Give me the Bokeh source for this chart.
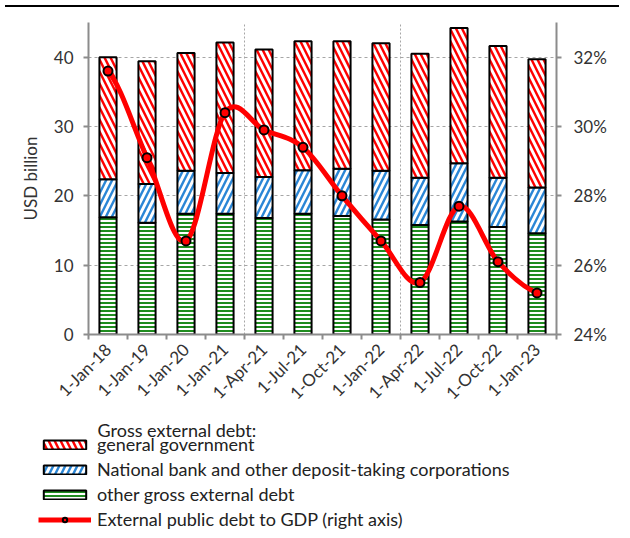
import math
import numpy as np
from bokeh.plotting import figure
from bokeh.models import (ColumnDataSource, Range1d, LinearAxis, FixedTicker, PrintfTickFormatter,
                          Legend, LegendItem, Label, Grid, Div)
from bokeh.layouts import column
from bokeh.embed import file_html
from bokeh.resources import INLINE

# ---------------- data ----------------
dates = ["1-Jan-18", "1-Jan-19", "1-Jan-20", "1-Jan-21", "1-Apr-21", "1-Jul-21",
         "1-Oct-21", "1-Jan-22", "1-Apr-22", "1-Jul-22", "1-Oct-22", "1-Jan-23"]
other_debt = [16.9, 16.1, 17.4, 17.4, 16.8, 17.4, 17.1, 16.6, 15.8, 16.3, 15.5, 14.6]
nbank_debt = [5.5, 5.6, 6.2, 5.9, 5.9, 6.3, 6.8, 7.0, 6.8, 8.4, 7.1, 6.6]
govt_debt = [17.6, 17.7, 17.0, 18.8, 18.4, 18.6, 18.4, 18.4, 17.9, 19.5, 19.0, 18.5]
debt_to_gdp = [31.6, 29.1, 26.7, 30.4, 29.9, 29.4, 28.0, 26.7, 25.5, 27.7, 26.1, 25.2]
left_ticks = [0, 10, 20, 30, 40]
right_ticks = [24, 26, 28, 30, 32]
year_break_after = ["1-Jan-21", "1-Jan-22"]
legend_title = "Gross external debt:"
series_names = ["general government", "National bank and other deposit-taking corporations",
                "other gross external debt", "External public debt to GDP (right axis)"]

FONT = "Lato"
TXT = "#333333"
AX = "#8c8c8c"
RED, BLUE, GREEN = "#ff0000", "#2a86d6", "#1f8c1f"
bar_style = dict(
    govt=dict(fill_color="white", hatch_color=RED, hatch_pattern="left_diagonal_line",
              hatch_scale=12, hatch_weight=2.4, line_color="black", line_width=2),
    nbank=dict(fill_color="white", hatch_color=BLUE, hatch_pattern="right_diagonal_line",
               hatch_scale=12, hatch_weight=2.4, line_color="black", line_width=2),
    other=dict(fill_color="white", hatch_color=GREEN, hatch_pattern="horizontal_line",
               hatch_scale=4, hatch_weight=2, line_color="black", line_width=2),
)
line_style = dict(line_color=RED, line_width=5)
pt_style = dict(size=9, marker="circle", fill_color=RED, line_color="black", line_width=2)

n = len(dates)
xs = list(range(n))
src = ColumnDataSource(dict(x=xs, other=other_debt, nbank=nbank_debt, govt=govt_debt))

PH = 406
p = figure(width=614, height=PH, frame_width=468, frame_height=312,
           min_border_left=88, min_border_right=58, min_border_top=10, min_border_bottom=84,
           x_range=Range1d(-0.5, n - 0.5), y_range=Range1d(0, 45),
           output_backend="svg", toolbar_location=None, outline_line_color=None,
           background_fill_color="white", border_fill_color="white")
p.frame_align = False
p.extra_y_ranges = {"pct": Range1d(24, 33)}

# grids
p.xgrid.visible = False
p.ygrid.ticker = FixedTicker(ticks=left_ticks[1:])
p.ygrid.grid_line_color = "#a6a6a6"
p.ygrid.grid_line_dash = "3 3"
p.ygrid.grid_line_width = 1
vb = [dates.index(d) + 0.5 for d in year_break_after]
p.add_layout(Grid(dimension=0, ticker=FixedTicker(ticks=vb), grid_line_color="#a6a6a6",
                  grid_line_dash="2 2", grid_line_width=1))

# stacked bars (stacking done by bokeh's stack transform)
keys = ["other", "nbank", "govt"]
stack = p.vbar_stack(keys, x="x", width=0.44, source=src,
                     fill_color=[bar_style[k]["fill_color"] for k in keys],
                     hatch_color=[bar_style[k]["hatch_color"] for k in keys],
                     hatch_pattern=[bar_style[k]["hatch_pattern"] for k in keys],
                     hatch_scale=[bar_style[k]["hatch_scale"] for k in keys],
                     hatch_weight=[bar_style[k]["hatch_weight"] for k in keys],
                     line_color="black", line_width=2)

# smoothed ratio line (Catmull-Rom -> Bezier control points from the data)
y = np.array(debt_to_gdp, dtype=float)
xa = np.arange(n, dtype=float)
m = np.zeros(n)
m[1:-1] = (y[2:] - y[:-2]) / 2.0
m[0] = (y[1] - y[0]) / 2.0
m[-1] = (y[-1] - y[-2]) / 2.0
bz = ColumnDataSource(dict(x0=xa[:-1], y0=y[:-1], x1=xa[1:], y1=y[1:],
                           cx0=xa[:-1] + 1 / 3, cy0=y[:-1] + m[:-1] / 3,
                           cx1=xa[1:] - 1 / 3, cy1=y[1:] - m[1:] / 3))
p.bezier(x0="x0", y0="y0", x1="x1", y1="y1", cx0="cx0", cy0="cy0", cx1="cx1", cy1="cy1",
         source=bz, y_range_name="pct", **line_style)
p.scatter(x=xs, y=debt_to_gdp, y_range_name="pct", **pt_style)

# axes
xa_ = p.xaxis[0]
xa_.ticker = FixedTicker(ticks=xs, minor_ticks=[i - 0.5 for i in range(n + 1)])
xa_.major_label_overrides = {i: d for i, d in enumerate(dates)}
xa_.major_label_orientation = math.pi / 4
xa_.major_tick_line_color = None
xa_.minor_tick_in = 0
xa_.minor_tick_out = 5
xa_.minor_tick_line_color = AX
xa_.minor_tick_line_width = 2
xa_.axis_line_color = AX
xa_.axis_line_width = 2
xa_.major_label_text_font = FONT
xa_.major_label_text_font_size = "17px"
xa_.major_label_text_color = TXT
xa_.major_label_standoff = 6

ya = p.yaxis[0]
ya.ticker = FixedTicker(ticks=left_ticks)
ya.minor_tick_line_color = None
ya.major_tick_in = 0
ya.major_tick_out = 5
ya.major_tick_line_color = AX
ya.major_tick_line_width = 2
ya.axis_line_color = AX
ya.axis_line_width = 2
ya.major_label_text_font = FONT
ya.major_label_text_font_size = "17px"
ya.major_label_text_color = TXT
ya.major_label_standoff = 10
ya.axis_label = "USD billion"
ya.axis_label_text_font = FONT
ya.axis_label_text_font_size = "17px"
ya.axis_label_text_font_style = "normal"
ya.axis_label_text_color = TXT
ya.axis_label_standoff = 10

ra = LinearAxis(y_range_name="pct", ticker=FixedTicker(ticks=right_ticks),
                formatter=PrintfTickFormatter(format="%d%%"))
ra.minor_tick_line_color = None
ra.major_tick_in = 0
ra.major_tick_out = 5
ra.major_tick_line_color = AX
ra.major_tick_line_width = 2
ra.axis_line_color = AX
ra.axis_line_width = 2
ra.major_label_text_font = FONT
ra.major_label_text_font_size = "17px"
ra.major_label_text_color = TXT
ra.major_label_standoff = 12
p.add_layout(ra, "right")

# ---------------- legend panel (own figure, frame = whole canvas) ----------------
LH = 522 - 2 - PH
q = figure(width=614, height=LH, min_border=0, x_range=Range1d(0, 614), y_range=Range1d(0, LH),
           x_axis_location=None, y_axis_location=None,
           output_backend="svg", toolbar_location=None, outline_line_color=None)
q.frame_align = False
q.grid.visible = False
# legend-only renderers (same data, hidden in this panel)
r_govt = q.vbar(x=xs, top=govt_debt, width=0.44, visible=False, **bar_style["govt"])
r_nbank = q.vbar(x=xs, top=nbank_debt, width=0.44, visible=False, **bar_style["nbank"])
r_other = q.vbar(x=xs, top=other_debt, width=0.44, visible=False, **bar_style["other"])
r_line = q.line(x=xs, y=debt_to_gdp, visible=False, **line_style)
r_pt = q.scatter(x=xs, y=debt_to_gdp, visible=False, **pt_style)
items = [LegendItem(label=series_names[0], renderers=[r_govt]),
         LegendItem(label=series_names[1], renderers=[r_nbank]),
         LegendItem(label=series_names[2], renderers=[r_other]),
         LegendItem(label=series_names[3], renderers=[r_line, r_pt])]
leg = Legend(items=items, location=(38, 2), orientation="vertical",
             glyph_width=53, glyph_height=11, label_height=18, spacing=3,
             label_standoff=6, padding=0, margin=0, border_line_color=None,
             background_fill_alpha=0, label_text_font=FONT, label_text_font_size="18px",
             label_text_color="#222222")
q.add_layout(leg, "center")
q.add_layout(Label(x=97, y=103, text=legend_title, text_font=FONT, text_font_size="18px",
                   text_color="#222222", text_baseline="alphabetic"))

top_rule = Div(width=614, height=2, styles={"background-color": "black"})
layout = column(top_rule, p, q, spacing=0)
open("out.html", "w").write(file_html(layout, INLINE))
